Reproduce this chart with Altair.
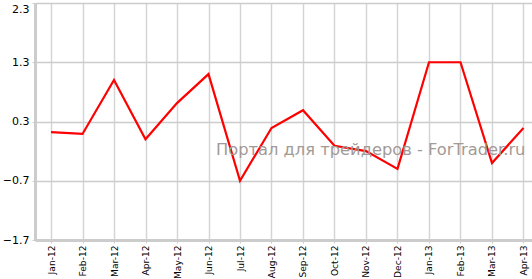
import altair as alt
import pandas as pd

months = ["Jan-12", "Feb-12", "Mar-12", "Apr-12", "May-12", "Jun-12", "Jul-12", "Aug-12",
          "Sep-12", "Oct-12", "Nov-12", "Dec-12", "Jan-13", "Feb-13", "Mar-13", "Apr-13"]
values = [0.12, 0.09, 1.0, 0.0, 0.61, 1.1, -0.7, 0.19,
          0.49, -0.11, -0.2, -0.5, 1.3, 1.3, -0.4, 0.19]
y_ticks = [-1.7, -0.7, 0.3, 1.3, 2.3]
watermark = "Портал для трейдеров - ForTrader.ru"

df = pd.DataFrame({"month": months, "value": values})

x = alt.X("month:O", sort=months, title=None,
          scale=alt.Scale(padding=0.389, align=0.653),
          axis=alt.Axis(labelAngle=-90, labelFont="DejaVu Sans", labelFontSize=9.1,
                        labelColor="#000", grid=True, gridColor="#d4d4d4", gridWidth=1.5,
                        domainColor="#cccccc", domainWidth=3, tickColor="#cccccc",
                        tickSize=3, labelPadding=2))
y = alt.Y("value:Q", title=None,
          scale=alt.Scale(domain=[-1.7, 2.3], nice=False, zero=False),
          axis=alt.Axis(values=y_ticks, format=".1f", labelFont="DejaVu Sans",
                        labelFontSize=11, labelColor="#000", grid=True,
                        gridColor="#cccccc", gridWidth=1.5, domainColor="#cccccc",
                        domainWidth=3, tickColor="#cccccc", tickSize=3, labelPadding=3,
                        labelBaseline=alt.condition("datum.value >= 2.2", alt.value("top"),
                                                    alt.value("middle"))))

line = alt.Chart(df).mark_line(color="#ff0000", strokeWidth=2.2).encode(x=x, y=y)

wm = alt.Chart(pd.DataFrame({"t": [watermark]})).mark_text(
    font="DejaVu Sans", fontSize=16.3, color="#a39a96", align="left", baseline="middle"
).encode(text="t:N", x=alt.value(181), y=alt.value(147))

chart = alt.layer(line, wm).properties(
    width=497, height=237,
    autosize=alt.AutoSizeParams(type="none"),
    padding={"left": 35, "top": 3, "right": 0, "bottom": 39},
).configure_view(stroke=None).configure(background="white")

chart.save("out.html", embed_options={"renderer": "svg", "actions": False})
